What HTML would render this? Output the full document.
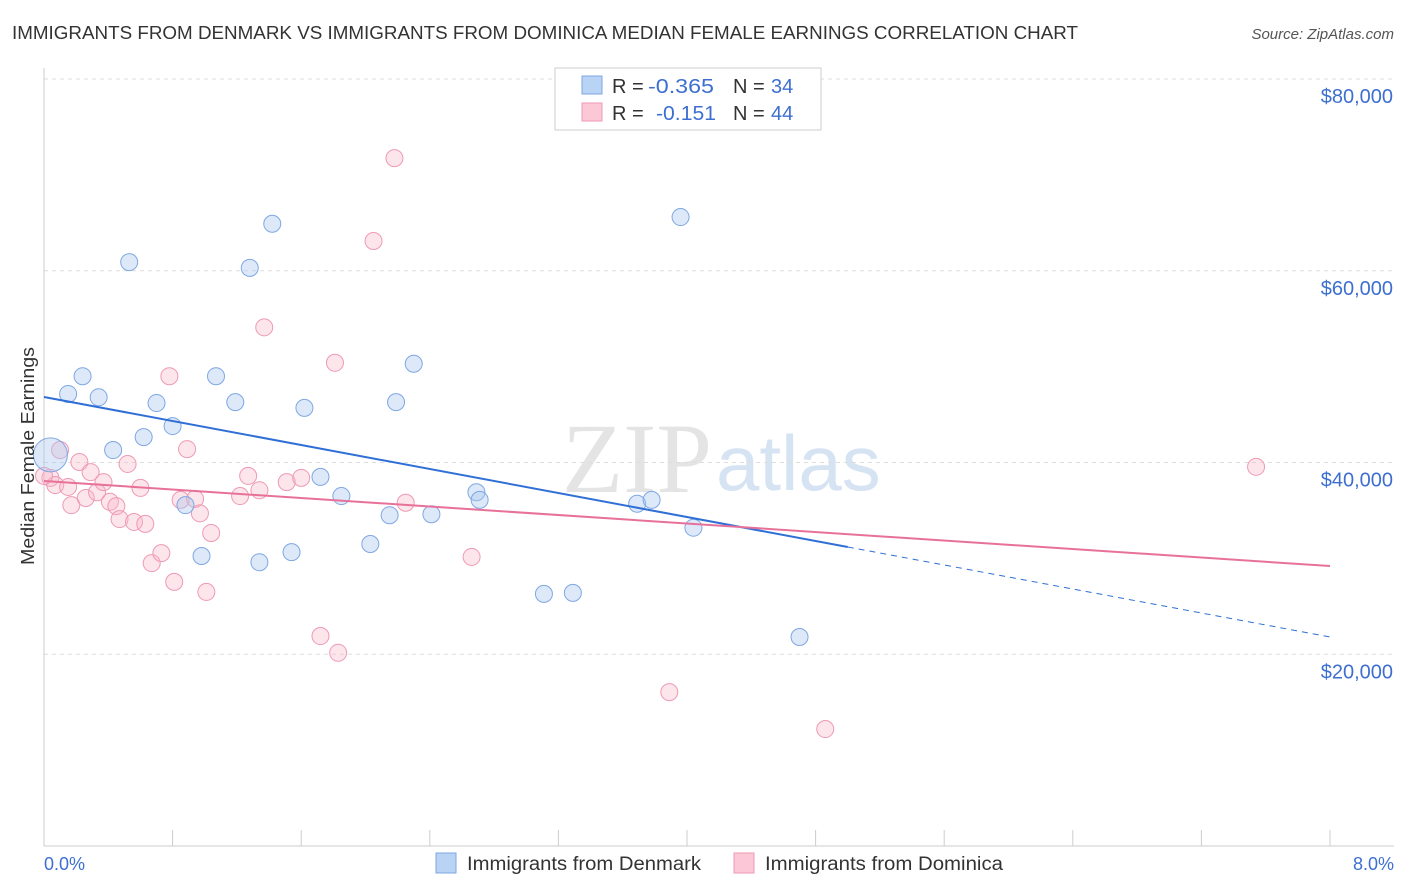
<!DOCTYPE html>
<html><head><meta charset="utf-8">
<style>
body{margin:0;background:#fff;font-family:"Liberation Sans",sans-serif;}
svg{display:block}
</style></head>
<body>
<svg id="chart" width="1406" height="892">
<text x="12" y="39" font-size="18" fill="#333" textLength="1066" lengthAdjust="spacingAndGlyphs">IMMIGRANTS FROM DENMARK VS IMMIGRANTS FROM DOMINICA MEDIAN FEMALE EARNINGS CORRELATION CHART</text>
<text x="1394" y="39" font-size="15" fill="#555" font-style="italic" text-anchor="end">Source: ZipAtlas.com</text>
<text x="712" y="492" font-size="100" fill="#e4e4e4" text-anchor="end" font-family="Liberation Serif">ZIP</text>
<text x="716" y="490" font-size="78" fill="#d6e3f3">atlas</text>
<g id="grid"></g>
<g id="axes"></g>
<g id="marks"></g>
<text transform="translate(34,456) rotate(-90)" font-size="18" fill="#333" text-anchor="middle" textLength="218" lengthAdjust="spacingAndGlyphs">Median Female Earnings</text>
<text x="44" y="870" font-size="18" fill="#3d6fd1">0.0%</text>
<text x="1394" y="870" font-size="18" fill="#3d6fd1" text-anchor="end">8.0%</text>
<g>
<rect x="555" y="68" width="266" height="62" fill="#fff" stroke="#ccc"/>
<rect x="582" y="76" width="20" height="18" fill="#b9d3f5" stroke="#7fa7e3"/>
<rect x="582" y="103" width="20" height="18" fill="#fcc7d6" stroke="#ee9ab5"/>
<text x="612" y="93" font-size="20" fill="#333">R = <tspan x="648" fill="#3d6fd1" textLength="66" lengthAdjust="spacingAndGlyphs">-0.365</tspan><tspan x="733">N = </tspan><tspan x="771" fill="#3d6fd1">34</tspan></text>
<text x="612" y="120" font-size="20" fill="#333">R = <tspan x="656" fill="#3d6fd1" textLength="60" lengthAdjust="spacingAndGlyphs">-0.151</tspan><tspan x="733">N = </tspan><tspan x="771" fill="#3d6fd1">44</tspan></text>
</g>
<g>
<rect x="436" y="853" width="20" height="20" fill="#b9d3f5" stroke="#7fa7e3"/>
<text x="467" y="870" font-size="19" fill="#333" textLength="234" lengthAdjust="spacingAndGlyphs">Immigrants from Denmark</text>
<rect x="734" y="853" width="20" height="20" fill="#fcc7d6" stroke="#ee9ab5"/>
<text x="765" y="870" font-size="19" fill="#333" textLength="238" lengthAdjust="spacingAndGlyphs">Immigrants from Dominica</text>
</g>
</svg>
<script>
const yTicks=[20000,40000,60000,80000];
const yTickLabels=["$20,000","$40,000","$60,000","$80,000"];
const xTicks=[0,0.8,1.6,2.4,3.2,4.0,4.8,5.6,6.4,7.2,8.0];
const denX=[0.15,0.24,0.34,0.53,0.43,0.62,0.70,0.80,0.88,0.98,1.07,1.19,1.28,1.34,1.42,1.54,1.62,1.72,1.85,2.03,2.15,2.19,2.30,2.41,2.69,2.71,3.11,3.29,3.69,3.78,3.96,4.04,4.70];
const denY=[47150,49000,46800,60900,41300,42650,46200,43800,35550,30250,49000,46300,60300,29600,64900,30650,45700,38500,36500,31500,34500,46300,50300,34600,36900,36100,26300,26400,35700,36100,65600,33200,21800];
const domX=[0.04,0.07,0.10,0.15,0.17,0.22,0.26,0.29,0.33,0.37,0.41,0.45,0.47,0.52,0.56,0.60,0.63,0.67,0.73,0.78,0.81,0.85,0.89,0.94,0.97,1.01,1.04,1.22,1.27,1.34,1.37,1.51,1.60,1.72,1.81,1.83,2.05,2.18,2.25,2.66,3.89,4.86,7.54,0.0];
const domY=[38400,37650,41300,37450,35550,40050,36300,39000,36900,37950,35900,35450,34100,39850,33800,37350,33600,29500,30550,49000,27550,36100,41400,36200,34700,26500,32650,36500,38600,37100,54100,37950,38400,21900,50400,20150,63100,71750,35800,30150,16050,12200,39550,38600];
const denTrend=[46830,21800]; const denSolidEnd=5.0;
const domTrend=[38070,29200];
const X=v=>44+v/8*1286, Y=v=>846-v/20000*191.75;
const NS="http://www.w3.org/2000/svg";
function mk(p,t,a){const e=document.createElementNS(NS,t);for(const k in a)e.setAttribute(k,a[k]);document.getElementById(p).appendChild(e);return e;}
yTicks.forEach((t,i)=>{
 const g=mk('grid','line',{x1:44,x2:1394,y1:Y(t),y2:Y(t),stroke:'#ddd','stroke-dasharray':'4,4'});
 
 
 const l=mk('grid','text',{x:1393,y:Y(t)+24,'font-size':20,fill:'#3d6fd1','text-anchor':'end'});
 l.textContent=yTickLabels[i];
 
 
});
mk('axes','line',{x1:44,x2:44,y1:68,y2:846,stroke:'#ccc'});
mk('axes','line',{x1:44,x2:1394,y1:846,y2:846,stroke:'#ccc'});
xTicks.forEach(t=>{const e=mk('axes','line',{x1:X(t),x2:X(t),y1:830,y2:846,stroke:'#ccc'});
 
 });
function pts(xs,ys,fill,stroke,name){xs.forEach((x,i)=>{const c=mk('marks','circle',{cx:X(x),cy:Y(ys[i]),r:8.5,fill:fill,stroke:stroke,'stroke-width':1});
 
 });}
pts(domX,domY,'rgba(250,180,200,0.35)','#ee9ab5','dominica-point');
pts(denX,denY,'rgba(170,200,240,0.4)','#7fa7e3','denmark-point');
const big=mk('marks','circle',{cx:X(0.04),cy:Y(40800),r:17,fill:'rgba(170,200,240,0.4)',stroke:'#7fa7e3'});


const dy=v=>denTrend[0]+(denTrend[1]-denTrend[0])*v/8;
const t1=mk('marks','line',{x1:X(0),y1:Y(denTrend[0]),x2:X(denSolidEnd),y2:Y(dy(denSolidEnd)),stroke:'#2f6fd6','stroke-width':2});


const t2=mk('marks','line',{x1:X(denSolidEnd),y1:Y(dy(denSolidEnd)),x2:X(8),y2:Y(denTrend[1]),stroke:'#2f6fd6','stroke-width':1,'stroke-dasharray':'6,5'});


const t3=mk('marks','line',{x1:X(0),y1:Y(domTrend[0]),x2:X(8),y2:Y(domTrend[1]),stroke:'#e8719a','stroke-width':2});


</script>
</body></html>
